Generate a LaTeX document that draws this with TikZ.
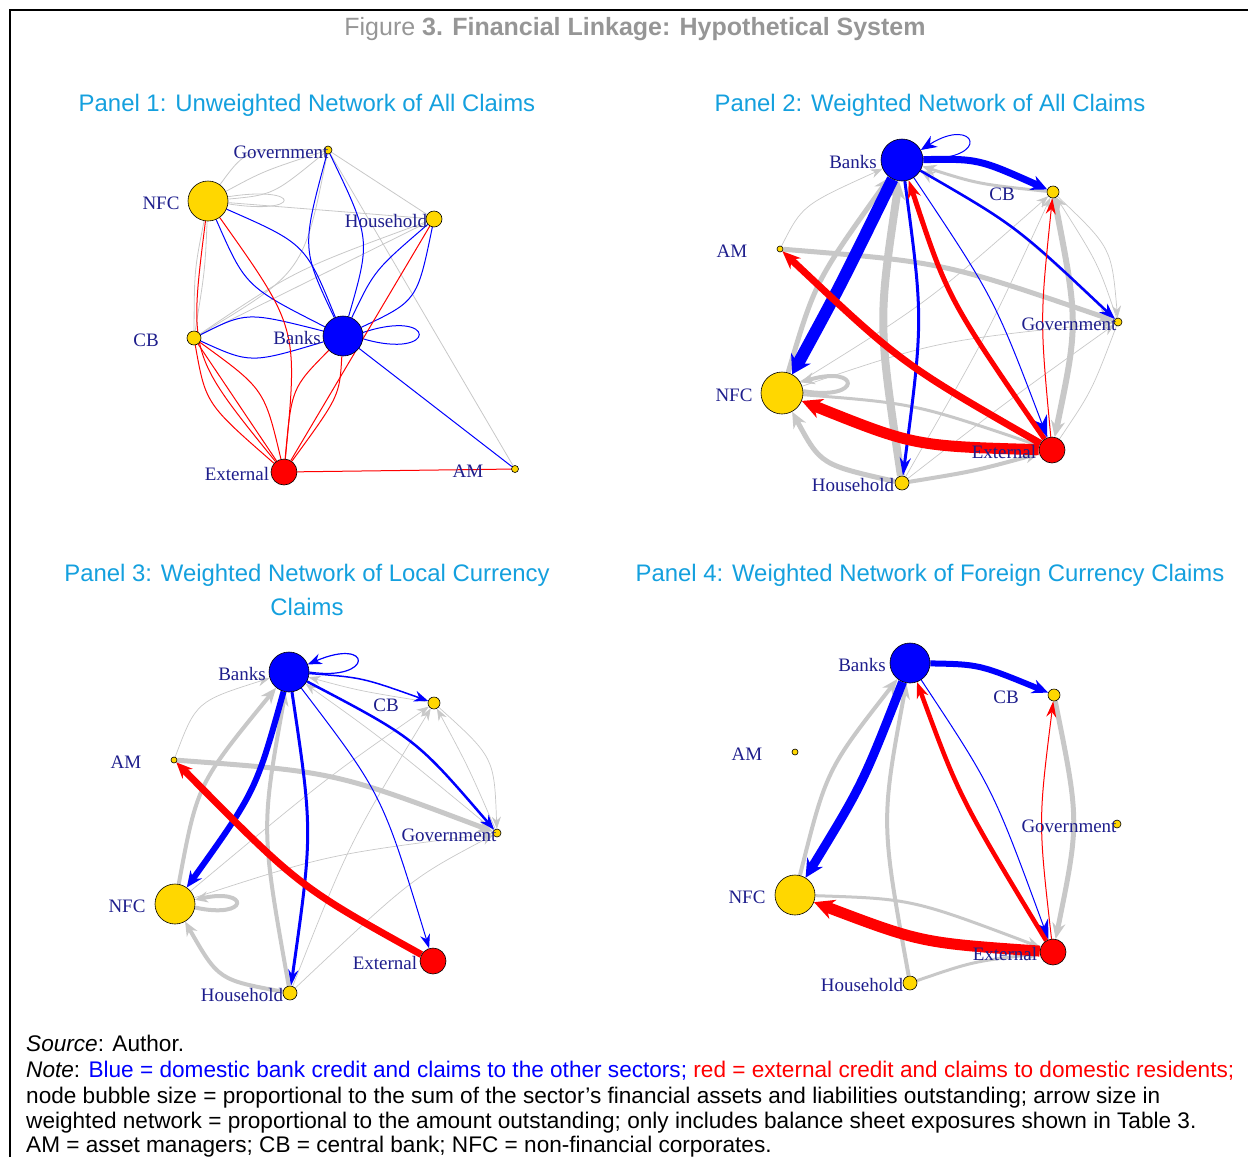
\documentclass[tikz,border=0pt]{standalone}
\usepackage{fontspec}
\setmainfont{Liberation Sans}
\newfontfamily\lblfont{Liberation Serif}
\usetikzlibrary{arrows.meta,calc}
\definecolor{gold}{RGB}{255,215,0}
\definecolor{navy}{RGB}{30,30,140}
\definecolor{egray}{RGB}{200,200,200}
\definecolor{ttlblue}{RGB}{20,160,222}
\definecolor{ttlgray}{RGB}{150,150,150}
\pgfdeclarelayer{edges}
\pgfsetlayers{edges,main}
% curve from #2 to #4 passing through the point #3
\newcommand\via[4]{\draw[#1] (#2) .. controls ($4/3*(#3)-1/6*(#2)-1/6*(#4)$) .. (#4);}
\tikzset{
  vtx/.style={circle,draw=black,line width=0.6pt,inner sep=0pt,minimum size=#1},
  lbl/.style={anchor=base,inner sep=0pt,text=navy,font=\lblfont\fontsize{19}{19}\selectfont},
  eb/.style={draw=blue,line width=#1pt},
  er/.style={draw=red,line width=#1pt},
  eg/.style={draw=egray,line width=#1pt},
  ah/.style 2 args={-{Stealth[length=#1pt,width=#2pt]}},
  ahs/.style 2 args={{Stealth[length=#1pt,width=#2pt]}-},
  ptitle/.style={anchor=base,text=ttlblue,font=\fontsize{23.9}{28}\selectfont},
  note/.style={anchor=base west,inner sep=0pt,font=\fontsize{22.6}{26}\selectfont},
}
\begin{document}
\begin{tikzpicture}[x=1pt,y=-1pt]
\useasboundingbox (0,0) rectangle (1248,1157);
\draw[line width=2pt] (10,1157) -- (10,10) -- (1248,10);

% headings
\node[anchor=base,text=ttlgray,font=\fontsize{25}{30}\selectfont] (fig) at (635,35) {Figure \textbf{3. Financial Linkage: Hypothetical System}};
\node[ptitle] (t1) at (307,111) {Panel 1: Unweighted Network of All Claims};
\node[ptitle] (t2) at (930,111) {Panel 2: Weighted Network of All Claims};
\node[ptitle] (t3a) at (307,581) {Panel 3: Weighted Network of Local Currency};
\node[ptitle] (t3b) at (307,615) {Claims};
\node[ptitle] (t4) at (930,581) {Panel 4: Weighted Network of Foreign Currency Claims};

% ---------------- Panel 1 ----------------
\node[vtx=8pt,fill=gold] (p1g) at (328,150) {};
\node[vtx=40pt,fill=gold] (p1n) at (208,201) {};
\node[vtx=16pt,fill=gold] (p1h) at (434,219) {};
\node[vtx=14pt,fill=gold] (p1cb) at (194,338) {};
\node[vtx=40pt,fill=blue] (p1b) at (343,336) {};
\node[vtx=26pt,fill=red] (p1e) at (284,472) {};
\node[vtx=7pt,fill=gold] (p1am) at (515,469) {};
\node[lbl] (p1gL) at (281,158) {Government};
\node[lbl] (p1nL) at (161,209) {NFC};
\node[lbl] (p1hL) at (386,227) {Household};
\node[lbl] (p1cbL) at (146,346) {CB};
\node[lbl] (p1bL) at (297,344) {Banks};
\node[lbl] (p1eL) at (237,480) {External};
\node[lbl] (p1amL) at (468,477) {AM};
\begin{pgfonlayer}{edges}
  \draw[eg=0.8] (p1g) -- (p1h);
  \draw[eg=0.8] (p1g) -- (p1am);
  \draw[eg=0.8] (p1n) -- (p1h);
  \draw[eg=0.8] (p1cb) -- (p1h);
  \via{eg=0.8}{p1cb}{300,272}{p1h}
  \via{eg=0.8}{p1n}{265,172}{p1g}
  \via{eg=0.8}{p1n}{272,190}{p1g}
  \via{eg=0.8}{p1n}{252,155}{p1g}
  \via{eg=0.8}{p1cb}{293,265}{p1g}
  \via{eg=0.8}{p1cb}{196,270}{p1n}
  \via{eg=0.8}{p1cb}{204,270}{p1n}
  \draw[eg=0.8] (p1n.12) .. controls +(75,-12) and +(75,12) .. (p1n.-8);
  \via{eb=1}{p1b}{310,247}{p1g}
  \via{eb=1}{p1b}{362,240}{p1g}
  \via{eb=1}{p1n}{253,282}{p1b}
  \via{eb=1}{p1n}{298,250}{p1b}
  \via{eb=1}{p1h}{410,295}{p1b}
  \via{eb=1}{p1h}{378,272}{p1b}
  \via{eb=1}{p1cb}{252,318}{p1b}
  \via{eb=1}{p1cb}{255,357}{p1b}
  \draw[eb=1] (p1b) -- (p1am);
  \draw[eb=1] (p1b.10) .. controls +(75,-25) and +(75,22) .. (p1b.-8);
  \via{er=1}{p1n}{203,350}{p1e}
  \via{er=1}{p1n}{285,330}{p1e}
  \via{er=1}{p1cb}{214,404}{p1e}
  \via{er=1}{p1cb}{258,393}{p1e}
  \draw[er=1] (p1cb) -- (p1e);
  \via{er=1}{p1b}{297,392}{p1e}
  \via{er=1}{p1b}{333,398}{p1e}
  \draw[er=1] (p1h) -- (p1e);
  \draw[er=1] (p1e) -- (p1am);
\end{pgfonlayer}

% ---------------- Panel 2 ----------------
\node[vtx=42pt,fill=blue] (p2b) at (902,160) {};
\node[vtx=12pt,fill=gold] (p2cb) at (1053,192) {};
\node[vtx=6pt,fill=gold] (p2am) at (780,249) {};
\node[vtx=8pt,fill=gold] (p2g) at (1118,322) {};
\node[vtx=42pt,fill=gold] (p2n) at (782,393) {};
\node[vtx=26pt,fill=red] (p2e) at (1052,450) {};
\node[vtx=14pt,fill=gold] (p2h) at (902,483) {};
\node[lbl] (p2bL) at (853,168) {Banks};
\node[lbl] (p2cbL) at (1002,200) {CB};
\node[lbl] (p2amL) at (732,257) {AM};
\node[lbl] (p2gL) at (1069,330) {Government};
\node[lbl] (p2nL) at (734,401) {NFC};
\node[lbl] (p2eL) at (1004,458) {External};
\node[lbl] (p2hL) at (853,491) {Household};
\begin{pgfonlayer}{edges}
  \via{eg=0.7,ah={12}{9}}{p2am}{812,205}{p2b}
  \via{eg=0.7,ah={12}{9}}{p2n}{940,345}{p2g}
  \via{eg=0.7,ah={12}{9}}{p2n}{925,300}{p2cb}
  \via{eg=0.7,ah={12}{9}}{p2h}{1010,400}{p2g}
  \via{eg=0.7,ah={12}{9}}{p2h}{985,335}{p2cb}
  \via{eg=0.7,ah={12}{9}}{p2cb}{1105,250}{p2g}
  \via{eg=0.7,ah={12}{9}}{p2g}{1095,262}{p2cb}
  \via{eg=0.7}{p2e}{1090,390}{p2g}
  \via{eg=2.5,ah={14}{12}}{p2g}{1012,228}{p2b}
  \via{eg=3,ah={14}{12}}{p2cb}{978,182}{p2b}
  \via{eg=5,ah={16}{14}}{p2am}{945,268}{p2g}
  \via{eg=8,ah={18}{18}}{p2h}{884,322}{p2b}
  \via{eg=5,ah={16}{14}}{p2n}{822,280}{p2b}
  \via{eg=6,ah={16}{14}}{p2cb}{1072,322}{p2e}
  \via{eg=5,ah={16}{14}}{p2h}{826,458}{p2n}
  \via{eg=4,ah={14}{12}}{p2h}{975,470}{p2e}
  \via{eg=3,ah={14}{12}}{p2n}{915,408}{p2e}
  \draw[eg=4,ahs={14}{12}] (p2n.30) .. controls +(60,-18) and +(60,10) .. (p2n.5);
  \draw[eb=1,ahs={16}{13}] (p2b.28) .. controls +(55,-35) and +(70,2) .. (p2b.4);
  \via{eb=7,ah={16}{15}}{p2b}{978,163}{p2cb}
  \via{eb=2.5,ah={16}{12}}{p2b}{1015,230}{p2g}
  \via{eb=12,ah={18}{22}}{p2b}{840,285}{p2n}
  \via{eb=3,ah={18}{11}}{p2b}{918,320}{p2h}
  \via{eb=1,ah={22}{16}}{p2b}{990,300}{p2e}
  \via{er=5,ah={18}{13}}{p2e}{955,300}{p2b}
  \via{er=7,ah={18}{15}}{p2e}{905,360}{p2am}
  \via{er=11,ah={20}{20}}{p2e}{915,440}{p2n}
  \via{er=1,ah={16}{10}}{p2e}{1043,320}{p2cb}
\end{pgfonlayer}

% ---------------- Panel 3 ----------------
\node[vtx=40pt,fill=blue] (p3b) at (289,672) {};
\node[vtx=12pt,fill=gold] (p3cb) at (434,703) {};
\node[vtx=6pt,fill=gold] (p3am) at (174,760) {};
\node[vtx=8pt,fill=gold] (p3g) at (497,833) {};
\node[vtx=40pt,fill=gold] (p3n) at (175,904) {};
\node[vtx=26pt,fill=red] (p3e) at (433,961) {};
\node[vtx=14pt,fill=gold] (p3h) at (290,993) {};
\node[lbl] (p3bL) at (242,680) {Banks};
\node[lbl] (p3cbL) at (386,711) {CB};
\node[lbl] (p3amL) at (126,768) {AM};
\node[lbl] (p3gL) at (449,841) {Government};
\node[lbl] (p3nL) at (127,912) {NFC};
\node[lbl] (p3eL) at (385,969) {External};
\node[lbl] (p3hL) at (242,1001) {Household};
\begin{pgfonlayer}{edges}
  \via{eg=0.7,ah={12}{9}}{p3am}{205,705}{p3b}
  \via{eg=0.7,ah={12}{9}}{p3cb}{487,760}{p3g}
  \via{eg=0.7,ah={12}{9}}{p3g}{468,768}{p3cb}
  \via{eg=0.7,ah={12}{9}}{p3n}{330,858}{p3g}
  \via{eg=0.7,ah={12}{9}}{p3n}{320,785}{p3cb}
  \via{eg=0.7,ah={12}{9}}{p3h}{352,845}{p3cb}
  \via{eg=0.7,ah={12}{9}}{p3h}{407,887}{p3g}
  \via{eg=0.7,ah={12}{9}}{p3cb}{360,690}{p3b}
  \via{eg=0.7,ah={12}{9}}{p3g}{385,742}{p3b}
  \via{eg=5,ah={16}{14}}{p3am}{335,778}{p3g}
  \via{eg=4,ah={16}{13}}{p3n}{206,785}{p3b}
  \via{eg=4,ah={14}{11}}{p3h}{268,830}{p3b}
  \via{eg=4,ah={14}{12}}{p3h}{222,972}{p3n}
  \draw[eg=4,ahs={13}{11}] (p3n.12) .. controls +(55,-12) and +(55,12) .. (p3n.-10);
  \draw[eb=1.2,ahs={14}{11}] (p3b.22) .. controls +(65,-28) and +(65,10) .. (p3b.0);
  \via{eb=1.5,ah={14}{11}}{p3b}{362,680}{p3cb}
  \via{eb=2.5,ah={15}{11}}{p3b}{410,742}{p3g}
  \via{eb=6,ah={16}{14}}{p3b}{250,790}{p3n}
  \via{eb=3,ah={16}{10}}{p3b}{307,832}{p3h}
  \via{eb=1,ah={14}{10}}{p3b}{377,800}{p3e}
  \via{er=7,ah={16}{14}}{p3e}{300,880}{p3am}
\end{pgfonlayer}

% ---------------- Panel 4 ----------------
\node[vtx=40pt,fill=blue] (p4b) at (910,663) {};
\node[vtx=12pt,fill=gold] (p4cb) at (1054,695) {};
\node[vtx=6pt,fill=gold] (p4am) at (795,752) {};
\node[vtx=8pt,fill=gold] (p4g) at (1117,824) {};
\node[vtx=40pt,fill=gold] (p4n) at (795,895) {};
\node[vtx=26pt,fill=red] (p4e) at (1053,952) {};
\node[vtx=14pt,fill=gold] (p4h) at (910,983) {};
\node[lbl] (p4bL) at (862,671) {Banks};
\node[lbl] (p4cbL) at (1006,703) {CB};
\node[lbl] (p4amL) at (747,760) {AM};
\node[lbl] (p4gL) at (1069,832) {Government};
\node[lbl] (p4nL) at (747,903) {NFC};
\node[lbl] (p4eL) at (1005,960) {External};
\node[lbl] (p4hL) at (862,991) {Household};
\begin{pgfonlayer}{edges}
  \via{eg=4,ah={16}{13}}{p4n}{833,772}{p4b}
  \via{eg=4,ah={16}{13}}{p4h}{888,822}{p4b}
  \via{eg=5,ah={16}{13}}{p4cb}{1073,822}{p4e}
  \via{eg=3,ah={14}{11}}{p4n}{915,905}{p4e}
  \via{eg=3,ah={14}{11}}{p4h}{975,963}{p4e}
  \via{eb=6,ah={16}{14}}{p4b}{980,668}{p4cb}
  \via{eb=9,ah={18}{18}}{p4b}{860,783}{p4n}
  \via{eb=1,ah={20}{14}}{p4b}{990,793}{p4e}
  \via{er=4.5,ah={16}{12}}{p4e}{965,800}{p4b}
  \via{er=1,ah={16}{10}}{p4e}{1042,822}{p4cb}
  \via{er=11,ah={20}{20}}{p4e}{922,938}{p4n}
\end{pgfonlayer}

% ---------------- notes ----------------
\node[note] (n1) at (26,1051) {\textit{Source}: Author.};
\node[note] (n2) at (26,1077) {\textit{Note}: \textcolor{blue}{Blue = domestic bank credit and claims to the other sectors;} \textcolor{red}{red = external credit and claims to domestic residents;}};
\node[note] (n3) at (26,1103) {node bubble size = proportional to the sum of the sector’s financial assets and liabilities outstanding; arrow size in};
\node[note] (n4) at (26,1128) {weighted network = proportional to the amount outstanding; only includes balance sheet exposures shown in Table 3.};
\node[note] (n5) at (26,1152) {AM = asset managers; CB = central bank; NFC = non-financial corporates.};
\end{tikzpicture}
\end{document}
